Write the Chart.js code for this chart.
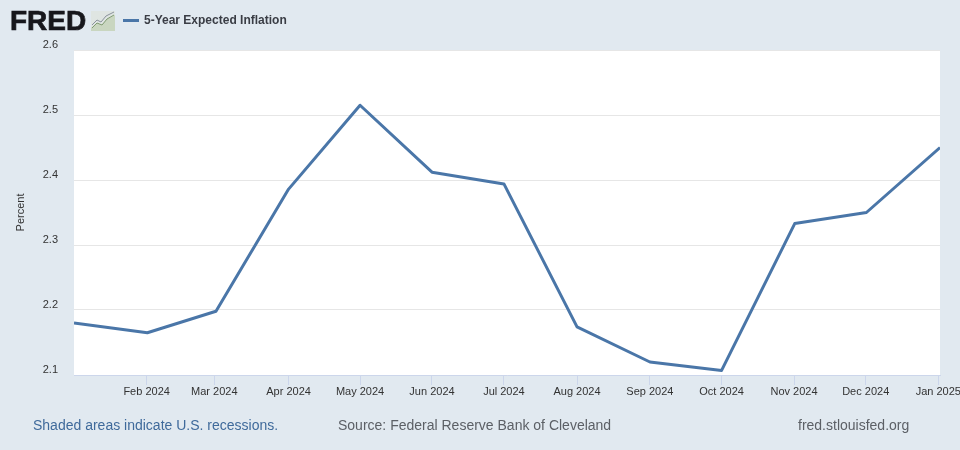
<!DOCTYPE html>
<html><head><meta charset="utf-8">
<style>
html,body{margin:0;padding:0;width:960px;height:450px;overflow:hidden;background:#e1e9f0;font-family:"Liberation Sans",Arial,sans-serif}
#wrap{position:relative;width:960px;height:450px}
canvas{position:absolute;left:0;top:0}
.t{position:absolute;white-space:nowrap}
#logo{left:10px;top:5px;font-size:28px;font-weight:bold;color:#17171c;letter-spacing:0;line-height:32px;-webkit-text-stroke:0.7px #17171c}
#spark{position:absolute;left:91px;top:11px}
#swatch{position:absolute;left:123px;top:18.5px;width:16px;height:3px;background:#4a76a8}
#legend{left:144px;top:13px;font-size:12px;font-weight:bold;color:#3a3d45;line-height:14px}
.foot{top:417px;font-size:14px;line-height:17px}
</style></head><body>
<div id="wrap">
<canvas id="c" width="960" height="450"></canvas>
<div class="t" id="logo">FRED</div>
<svg id="spark" width="24" height="20" viewBox="0 0 24 20"><rect width="24" height="20" fill="#dfe5e2"/><polygon points="0,20 0,17 6,12 11,14 16,8 24,4 24,20" fill="#c9d6c0"/><polyline points="1,17 6,12 11,14 16,8 23,4" fill="none" stroke="#7f9a70" stroke-width="1"/><polyline points="1,14 6,9 10,11 15,5 23,1" fill="none" stroke="#8a929c" stroke-width="1"/></svg>
<div id="swatch"></div>
<div class="t" id="legend"></div>
<div class="t foot" style="left:33px;color:#3f6a9b">Shaded areas indicate U.S. recessions.</div>
<div class="t foot" style="left:338px;color:#5c6066">Source: Federal Reserve Bank of Cleveland</div>
<div class="t foot" style="left:798px;color:#5c6066">fred.stlouisfed.org</div>
</div>
<script src="https://cdn.jsdelivr.net/npm/chart.js@4"></script>
<script>
const seriesName = "5-Year Expected Inflation";
const dayOffsets = [0, 31, 60, 90.7, 120.9, 151.3, 181.7, 212.6, 243.4, 273.7, 304.6, 334.9, 366];
const inflationValues = [2.18, 2.165, 2.198, 2.386, 2.515, 2.412, 2.394, 2.174, 2.12, 2.107, 2.333, 2.35, 2.45];
const xTickDays = [30.7, 59.3, 90.7, 120.9, 151.3, 181.7, 212.6, 243.4, 273.7, 304.3, 334.6, 365.3];
const xTickLabels = ["Feb 2024","Mar 2024","Apr 2024","May 2024","Jun 2024","Jul 2024","Aug 2024","Sep 2024","Oct 2024","Nov 2024","Dec 2024","Jan 2025"];
const yAxisTitle = "Percent";

document.getElementById('legend').textContent = seriesName;

const plotBackground = {
  id: 'plotBackground',
  beforeDraw(chart) {
    const a = chart.chartArea, g = chart.ctx;
    g.save(); g.fillStyle = '#ffffff';
    g.fillRect(a.left, a.top, a.width, a.height);
    g.restore();
  }
};

new Chart(document.getElementById('c'), {
  type: 'line',
  data: { datasets: [{
    label: seriesName,
    data: dayOffsets.map((d, i) => ({ x: d, y: inflationValues[i] })),
    borderColor: '#4a76a8', borderWidth: 3, pointRadius: 0, tension: 0,
    borderJoinStyle: 'round'
  }]},
  plugins: [plotBackground],
  options: {
    responsive: false, animation: false, devicePixelRatio: 1,
    layout: { padding: { top: 50, right: 20, bottom: 0, left: 0 } },
    plugins: { legend: { display: false }, tooltip: { enabled: false } },
    scales: {
      x: {
        type: 'linear', min: 0, max: 366,
        afterBuildTicks(s) { s.ticks = xTickDays.map(v => ({ value: v })); },
        afterFit(s) { s.height = 75; s.paddingRight = 0; s.paddingLeft = 0; },
        grid: { drawOnChartArea: false, drawTicks: true, tickLength: 10, tickColor: '#ccd6eb' },
        border: { color: '#ccd6eb', width: 1 },
        ticks: {
          autoSkip: false, maxRotation: 0, minRotation: 0, padding: 0,
          color: '#333333', font: { family: '"Liberation Sans"', size: 11 },
          callback: v => xTickLabels[xTickDays.indexOf(v)] ?? ''
        }
      },
      y: {
        min: 2.1, max: 2.6,
        afterFit(s) { s.width = 74; },
        grid: { color: '#e6e6e6', drawTicks: false },
        border: { display: false },
        title: { display: true, text: yAxisTitle, color: '#333333', padding: { top: 14, bottom: 0 },
          font: { family: '"Liberation Sans"', size: 11 } },
        ticks: {
          stepSize: 0.1, padding: 16,
          color: '#333333', font: { family: '"Liberation Sans"', size: 11, lineHeight: 1 },
          callback: v => [Number(v).toFixed(1), '']
        }
      }
    }
  }
});
</script>
</body></html>
